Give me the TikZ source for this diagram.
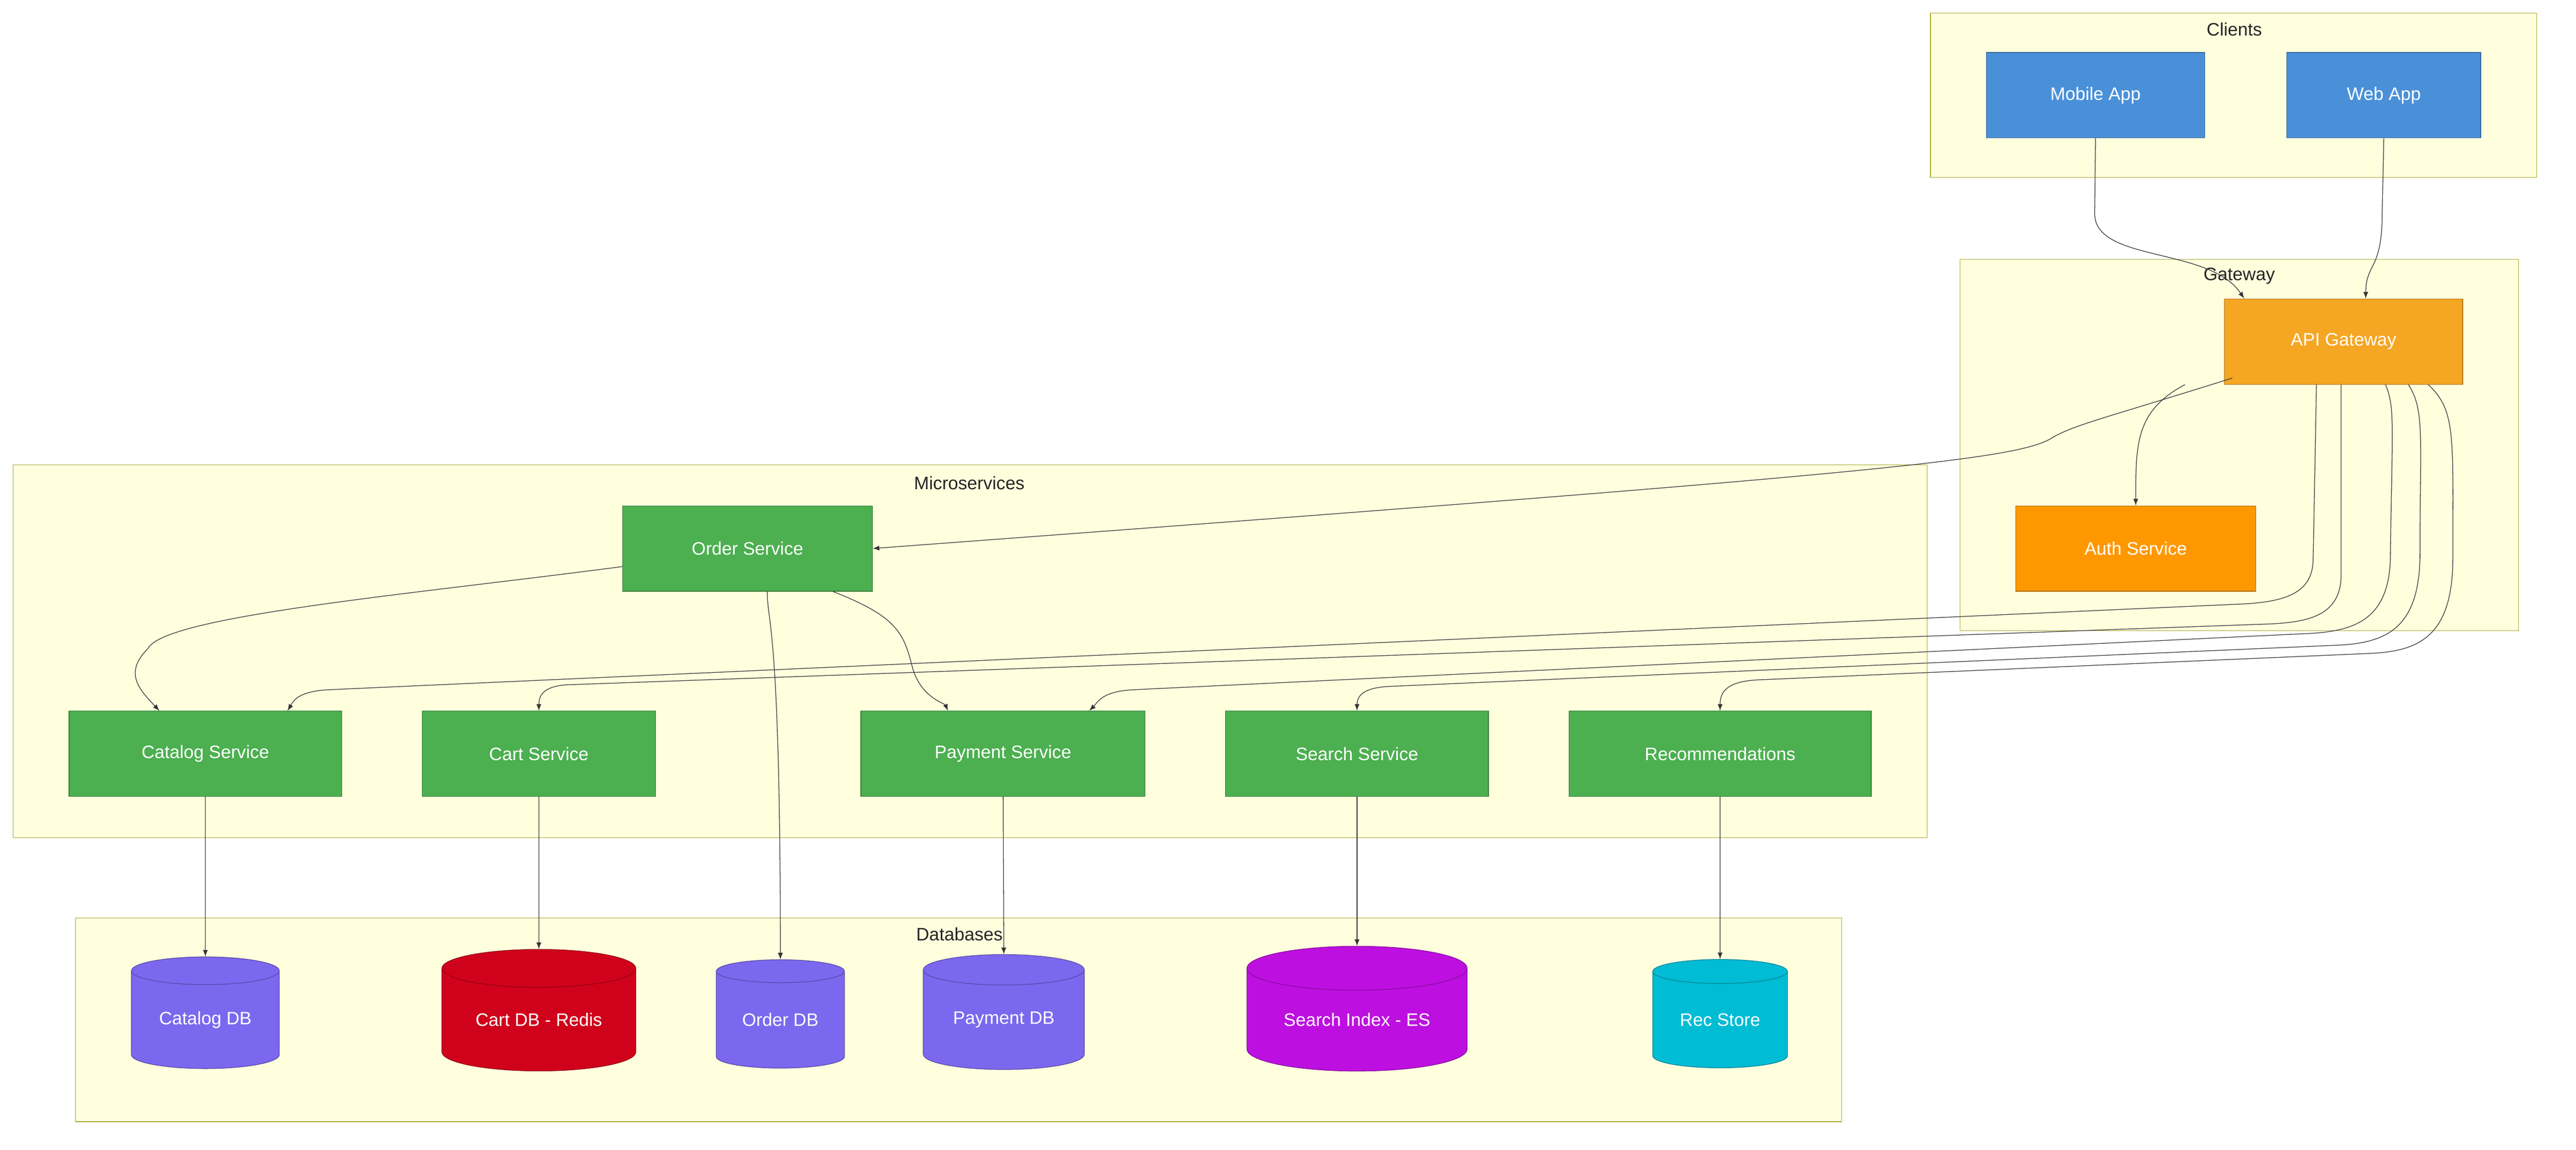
\documentclass[tikz,border=0pt]{standalone}
\usepackage{fontspec}
\setmainfont{Liberation Sans}
\usetikzlibrary{shapes.geometric}
\definecolor{grpfill}{HTML}{FFFFDE}
\definecolor{grpline}{HTML}{AAAA33}
\definecolor{cliblue}{HTML}{4A90D9}
\definecolor{gworange}{HTML}{F5A623}
\definecolor{authorange}{HTML}{FF9800}
\definecolor{svcgreen}{HTML}{4CAF50}
\definecolor{dbpurple}{HTML}{7B68EE}
\definecolor{dbred}{HTML}{D0021B}
\definecolor{dbmag}{HTML}{BD10E0}
\definecolor{dbcyan}{HTML}{00BCD4}
\begin{document}
\begin{tikzpicture}[x=1pt,y=-1pt,
			group/.style={draw=grpline,fill=grpfill},
			grplab/.style={font=\fontsize{11}{13}\selectfont,text=black!85},
			box/.style={draw=#1!70!black,fill=#1,text=white,font=\fontsize{11}{13}\selectfont},
			db/.style={cylinder,shape border rotate=90,aspect=0.3,draw=#1!70!black,fill=#1,text=white,font=\fontsize{11}{13}\selectfont,inner sep=0pt},
			link/.style={draw=black!80,-latex,thin}]
	\useasboundingbox (0,0) rectangle (1568,700);
	% groups
	\draw [group] (1175,8) rectangle (1544,108);
	\node [grplab] (gclients) at (1360,18) {Clients};
	\draw [group] (1193,158) rectangle (1533,384);
	\node [grplab] (ggateway) at (1363,168) {Gateway};
	\draw [group] (8,283) rectangle (1173,510);
	\node [grplab] (gmicro) at (590,294) {Microservices};
	\draw [group] (46,559) rectangle (1121,683);
	\node [grplab] (gdb) at (584,569) {Databases};
	% clients and gateway
	\node [box=cliblue,minimum width=133,minimum height=52] (mobile) at (1275.5,58) {Mobile App};
	\node [box=cliblue,minimum width=118,minimum height=52] (web) at (1451,58) {Web App};
	\node [box=gworange,minimum width=145,minimum height=52] (api) at (1426.5,208) {API Gateway};
	\node [box=authorange,minimum width=146,minimum height=52] (auth) at (1300,334) {Auth Service};
	% services
	\node [box=svcgreen,minimum width=152,minimum height=52] (order) at (455,334) {Order Service};
	\node [box=svcgreen,minimum width=166,minimum height=52] (catalog) at (125,459) {Catalog Service};
	\node [box=svcgreen,minimum width=142,minimum height=52] (cart) at (328,459) {Cart Service};
	\node [box=svcgreen,minimum width=173,minimum height=52] (payment) at (610.5,459) {Payment Service};
	\node [box=svcgreen,minimum width=160,minimum height=52] (search) at (826,459) {Search Service};
	\node [box=svcgreen,minimum width=184,minimum height=52] (recs) at (1047,459) {Recommendations};
	% databases
	\node [db=dbpurple,minimum width=90,minimum height=68] (catalogdb) at (125,621) {Catalog DB};
	\node [db=dbred,minimum width=118,minimum height=74] (cartdb) at (328,621) {Cart DB - Redis};
	\node [db=dbpurple,minimum width=78,minimum height=66] (orderdb) at (475,621) {Order DB};
	\node [db=dbpurple,minimum width=98,minimum height=70] (paydb) at (611,621) {Payment DB};
	\node [db=dbmag,minimum width=134,minimum height=76] (searchdb) at (826,621) {Search Index - ES};
	\node [db=dbcyan,minimum width=82,minimum height=66] (recdb) at (1047,621) {Rec Store};
	% edges
	\draw [link] (mobile.south) -- (1275,130) .. controls (1275,160) and (1345,150) .. (api.north west -| 1366,0);
	\draw [link] (web.south) -- (1450,130) .. controls (1450,165) and (1440,160) .. (api.north -| 1440,0);
	\draw [link] (api.south west) ++(5,-4) .. controls (1280,255) and (1265,258) .. (1250,266) .. controls (1230,280) and (1150,288) .. (order.east);
	\draw [link] (api.south -| 1330,0) .. controls (1300,250) and (1300,270) .. (auth.north);
	\draw [link] (api.south -| 1410,0) -- (1408,340) .. controls (1408,362) and (1390,367) .. (1360,368) -- (200,420) .. controls (180,421) and (178,428) .. (catalog.north -| 175,0);
	\draw [link] (api.south -| 1425,0) -- (1425,350) .. controls (1425,375) and (1405,379) .. (1380,380) -- (345,417) .. controls (330,418) and (328,424) .. (cart.north);
	\draw [link] (api.south -| 1452,0) .. controls (1458,248) and (1456,260) .. (1455,340) .. controls (1454,380) and (1430,385) .. (1400,386) -- (690,420) .. controls (670,421) and (668,428) .. (payment.north -| 663,0);
	\draw [link] (api.south -| 1466,0) .. controls (1476,250) and (1473,265) .. (1473,340) .. controls (1472,385) and (1450,392) .. (1420,393) -- (845,418) .. controls (828,419) and (826,425) .. (search.north);
	\draw [link] (api.south -| 1478,0) .. controls (1495,250) and (1493,265) .. (1493,340) .. controls (1493,390) and (1470,397) .. (1440,398) -- (1070,414) .. controls (1050,415) and (1047,422) .. (recs.north);
	\draw [link] (order.west |- 0,345) .. controls (250,362) and (100,375) .. (90,395) .. controls (75,410) and (85,420) .. (catalog.north -| 97,0);
	\draw [link] (order.south -| 467,0) .. controls (467,380) and (475,380) .. (orderdb.north);
	\draw [link] (order.south -| 507,0) .. controls (545,375) and (550,385) .. (555,405) .. controls (560,425) and (575,428) .. (payment.north -| 577,0);
	\draw [link] (catalog) -- (catalogdb.north);
	\draw [link] (cart) -- (cartdb.north);
	\draw [link] (payment) -- (paydb.north);
	\draw [link] (search) -- (searchdb.north);
	\draw [link] (recs) -- (recdb.north);
\end{tikzpicture}
\end{document}
